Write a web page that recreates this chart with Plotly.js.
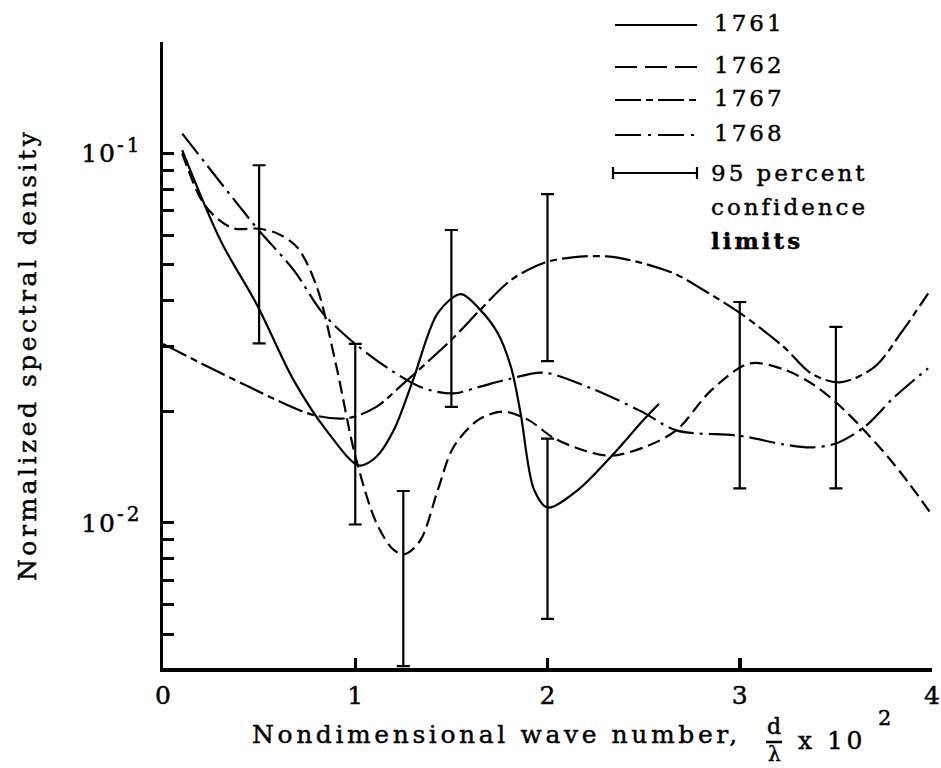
<!DOCTYPE html>
<html>
<head>
<meta charset="utf-8">
<script src="https://cdn.plot.ly/plotly-3.0.1.min.js"></script>
<style>
  html, body { margin: 0; padding: 0; background: #fff; }
  #chart { width: 941px; height: 768px; }
</style>
</head>
<body>
<div id="chart"></div>
<script>
// Normalized spectral density vs nondimensional wave number (d/lambda x 10^2)

// Run 1761 (solid)
const x1761 = [0.1, 0.3, 0.49, 0.68, 0.85, 1.02, 1.11, 1.2, 1.3, 1.43, 1.55, 1.65, 1.74, 1.81, 1.86, 1.93, 2.0, 2.16, 2.33, 2.5, 2.58];
const y1761 = [0.102, 0.058, 0.0388, 0.0243, 0.0178, 0.0143, 0.0151, 0.0178, 0.0243, 0.037, 0.0416, 0.0377, 0.0327, 0.0264, 0.0198, 0.0123, 0.011, 0.0123, 0.0151, 0.019, 0.021];

// Run 1762 (dashed)
const x1762 = [0.1, 0.22, 0.36, 0.5, 0.6, 0.7, 0.8, 0.9, 1.0, 1.11, 1.2, 1.26, 1.34, 1.43, 1.51, 1.64, 1.77, 1.9, 2.03, 2.19, 2.33, 2.5, 2.67, 2.85, 3.05, 3.23, 3.37, 3.5, 3.63, 3.77, 3.88, 4.0];
const y1762 = [0.100, 0.072, 0.0628, 0.0625, 0.0605, 0.0555, 0.0435, 0.0268, 0.0152, 0.010, 0.00845, 0.00824, 0.009, 0.0123, 0.016, 0.019, 0.020, 0.019, 0.017, 0.0157, 0.0152, 0.016, 0.0178, 0.0228, 0.027, 0.026, 0.0239, 0.0212, 0.0182, 0.0151, 0.0128, 0.0105];

// Run 1767 (long dash - short dash)
const x1767 = [0.0, 0.45, 0.78, 0.96, 1.11, 1.23, 1.5, 1.65, 1.81, 1.98, 2.13, 2.31, 2.49, 2.67, 2.8, 3.0, 3.23, 3.37, 3.52, 3.7, 3.84, 3.98];
const y1767 = [0.0305, 0.0233, 0.0196, 0.0192, 0.0206, 0.0233, 0.0313, 0.0377, 0.0454, 0.0505, 0.0523, 0.0526, 0.0505, 0.047, 0.043, 0.037, 0.0299, 0.0254, 0.024, 0.0264, 0.0327, 0.0418];

// Run 1768 (long dash - dot)
const x1768 = [0.1, 0.36, 0.49, 0.68, 0.83, 0.99, 1.18, 1.35, 1.51, 1.64, 1.8, 1.98, 2.22, 2.49, 2.67, 3.0, 3.23, 3.37, 3.5, 3.65, 3.8, 3.98];
const y1768 = [0.113, 0.076, 0.0626, 0.0483, 0.037, 0.0308, 0.026, 0.0232, 0.0224, 0.0233, 0.0245, 0.0255, 0.0232, 0.020, 0.0178, 0.0172, 0.0163, 0.016, 0.0164, 0.0182, 0.0218, 0.0262];

// 95 percent confidence limits
const barX    = [0.5, 1.0, 1.25, 1.5, 2.0, 2.0, 3.0, 3.5];
const barHigh = [0.0928, 0.0305, 0.0122, 0.062, 0.0775, 0.0169, 0.0396, 0.0339];
const barLow  = [0.0306, 0.0099, 0.0041, 0.0206, 0.0274, 0.0055, 0.0124, 0.0124];

// Axis ticks
const xTickVals = [0, 1, 2, 3, 4];
const xTickText = ['0', '1', '2', '3', '4'];
const yTickVals = [0.01, 0.1];
const yTickBase = ['10', '10'];
const yTickExp = ['-2', '-1'];
const yMinorVals = [0.005, 0.006, 0.007, 0.008, 0.009, 0.02, 0.03, 0.04, 0.05, 0.06, 0.07, 0.08, 0.09, 0.2];

// Legend entries
const legendNames = ['1761', '1762', '1767', '1768'];
const legendNote = ['95 percent', 'confidence', '<b>limits</b>'];

// ---- styling / layout ----
const FONT = 'DejaVu Serif';
const INK = '#000';
const dashes = {
  '1761': 'solid',
  '1762': '13px,6px',
  '1767': '26px,5px,7px,5px',
  '1768': '26px,6px,3px,6px'
};
const legendDashes = {
  '1761': 'solid',
  '1762': '22px,8px',
  '1767': '26px,5px,7px,5px',
  '1768': '26px,7px,3px,7px'
};

// plot area in pixels
const L = 163, T = 42, W = 769, H = 626;
const pxX = v => (v - L) / W;
const pxY = v => (T + H - v) / H;

function curve(x, y, name) {
  return {
    x: x, y: y, name: name, type: 'scatter', mode: 'lines',
    line: { color: INK, width: 2.2, dash: dashes[name], shape: 'spline', smoothing: 0.9 },
    showlegend: false, hoverinfo: 'skip'
  };
}

const traces = [
  curve(x1761, y1761, '1761'),
  curve(x1762, y1762, '1762'),
  curve(x1767, y1767, '1767'),
  curve(x1768, y1768, '1768'),
  {
    x: barX, y: barHigh, type: 'scatter', mode: 'markers',
    marker: { size: 1, color: 'rgba(0,0,0,0)' },
    error_y: {
      type: 'data', symmetric: false,
      array: barX.map(() => 0),
      arrayminus: barHigh.map((h, i) => h - barLow[i]),
      color: INK, thickness: 2.2, width: 6.5
    },
    showlegend: false, hoverinfo: 'skip'
  }
];

const shapes = [];
const annotations = [];
// typewriter-like text: spaced letters with a slightly heavier stroke
const sp = (txt, ls) => '<span style="letter-spacing:' + ls + 'px;stroke:#000;stroke-width:0.45px">' + txt + '</span>';

// legend samples and labels
const legendRowsY = [25, 67, 100, 135];
legendNames.forEach((nm, i) => {
  shapes.push({
    type: 'line', xref: 'paper', yref: 'paper',
    x0: pxX(615), x1: pxX(697), y0: pxY(legendRowsY[i]), y1: pxY(legendRowsY[i]),
    line: { color: INK, width: 2.2, dash: legendDashes[nm] }
  });
  annotations.push({
    xref: 'paper', yref: 'paper', x: pxX(712), y: pxY(legendRowsY[i] - 2),
    xanchor: 'left', yanchor: 'middle', showarrow: false,
    text: sp(nm, 3), font: { family: FONT, size: 23, color: INK }
  });
});
// confidence-limit sample: bar with end caps
const ciY = 173;
shapes.push({ type: 'line', xref: 'paper', yref: 'paper', x0: pxX(613), x1: pxX(697), y0: pxY(ciY), y1: pxY(ciY), line: { color: INK, width: 2.2 } });
[613, 697].forEach(xp => shapes.push({
  type: 'line', xref: 'paper', yref: 'paper', x0: pxX(xp), x1: pxX(xp), y0: pxY(ciY - 6), y1: pxY(ciY + 6),
  line: { color: INK, width: 2.2 }
}));
const noteY = [173, 207, 241];
legendNote.forEach((t, i) => annotations.push({
  xref: 'paper', yref: 'paper', x: pxX(709), y: pxY(noteY[i]),
  xanchor: 'left', yanchor: 'middle', showarrow: false,
  text: sp(t, 3), font: { family: FONT, size: 23, color: INK }
}));

// axis titles
annotations.push({
  xref: 'paper', yref: 'paper', x: pxX(27), y: pxY(355),
  xanchor: 'center', yanchor: 'middle', textangle: -90, showarrow: false,
  text: sp('Normalized spectral density', 3.5), font: { family: FONT, size: 25, color: INK }
});
annotations.push({
  xref: 'paper', yref: 'paper', x: pxX(250), y: pxY(734),
  xanchor: 'left', yanchor: 'middle', showarrow: false,
  text: sp('Nondimensional wave number,', 3.6), font: { family: FONT, size: 25, color: INK }
});
annotations.push({
  xref: 'paper', yref: 'paper', x: pxX(774), y: pxY(726),
  xanchor: 'center', yanchor: 'middle', showarrow: false,
  text: sp('d', 0), font: { family: FONT, size: 22, color: INK }
});
shapes.push({ type: 'line', xref: 'paper', yref: 'paper', x0: pxX(766), x1: pxX(782), y0: pxY(742), y1: pxY(742), line: { color: INK, width: 2.5 } });
annotations.push({
  xref: 'paper', yref: 'paper', x: pxX(774), y: pxY(754),
  xanchor: 'center', yanchor: 'middle', showarrow: false,
  text: sp('λ', 0), font: { family: FONT, size: 20, color: INK }
});
annotations.push({
  xref: 'paper', yref: 'paper', x: pxX(796), y: pxY(741),
  xanchor: 'left', yanchor: 'middle', showarrow: false,
  text: sp('x 10', 3.5), font: { family: FONT, size: 25, color: INK }
});
annotations.push({
  xref: 'paper', yref: 'paper', x: pxX(876), y: pxY(718),
  xanchor: 'left', yanchor: 'middle', showarrow: false,
  text: sp('2', 0), font: { family: FONT, size: 21, color: INK }
});

const yTickText = yTickBase.map((b, i) =>
  sp(b, 2) + '<sup><span style="font-size:20px;letter-spacing:3px;stroke:#000;stroke-width:0.45px">' + yTickExp[i] + '</span></sup>');

const layout = {
  width: 941, height: 768,
  margin: { l: L, r: 941 - L - W, t: T, b: 768 - T - H, pad: 0 },
  paper_bgcolor: '#fff', plot_bgcolor: '#fff',
  showlegend: false,
  xaxis: {
    range: [0, 4], tickmode: 'array', tickvals: xTickVals, ticktext: xTickText.map(t => sp(t, 0)),
    ticks: 'inside', ticklen: 10, tickwidth: 3.5, tickcolor: INK,
    showline: true, linewidth: 3.5, linecolor: INK,
    showgrid: false, zeroline: false, ticklabelstandoff: 2,
    tickfont: { family: FONT, size: 25, color: INK }
  },
  yaxis: {
    type: 'log', range: [Math.log10(0.00405), Math.log10(0.2)],
    tickmode: 'array', tickvals: yTickVals, ticktext: yTickText,
    ticks: 'inside', ticklen: 11, tickwidth: 3, tickcolor: INK,
    minor: { tickmode: 'array', tickvals: yMinorVals, ticks: 'inside', ticklen: 11, tickwidth: 3, tickcolor: INK, showgrid: false },
    showline: true, linewidth: 3.5, linecolor: INK,
    showgrid: false, zeroline: false, ticklabelstandoff: 12,
    tickfont: { family: FONT, size: 25, color: INK }
  },
  shapes: shapes,
  annotations: annotations
};

Plotly.newPlot('chart', traces, layout, { staticPlot: true, displayModeBar: false });
</script>
</body>
</html>
